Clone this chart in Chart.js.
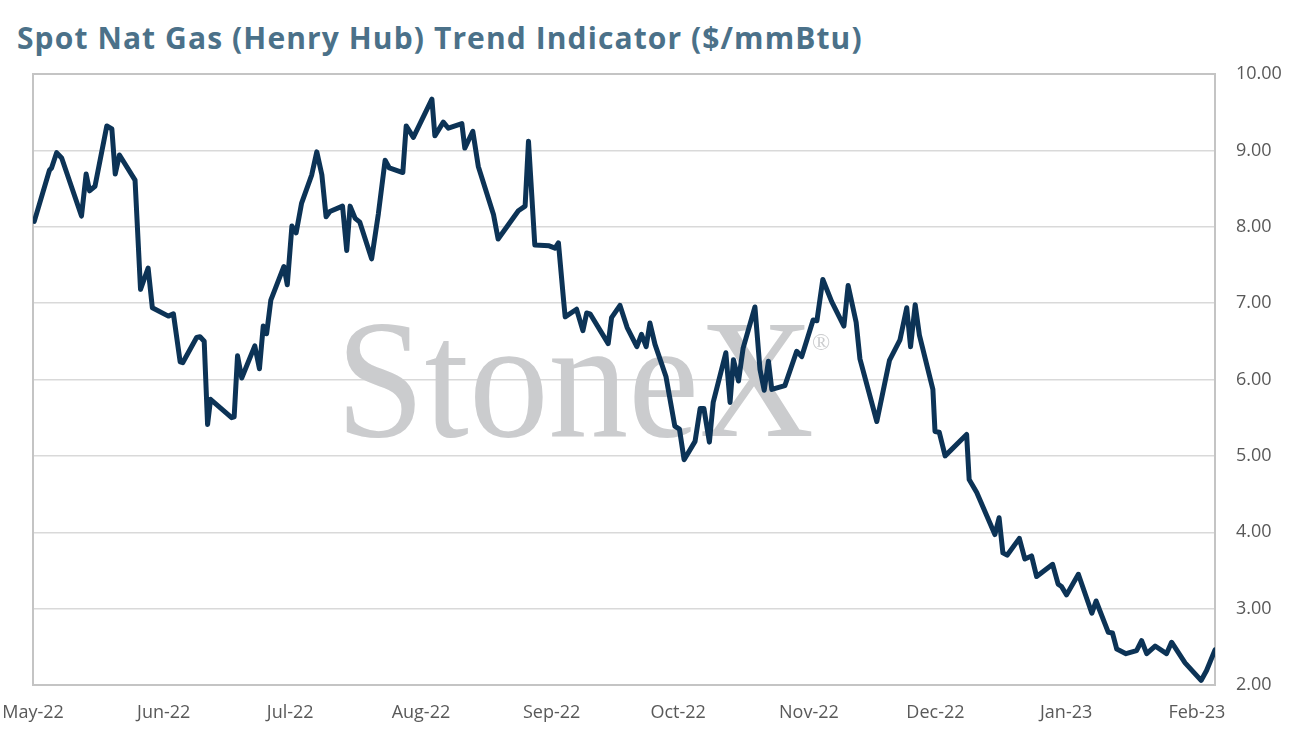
<!DOCTYPE html>
<html lang="en">
  <head>
    <meta charset="UTF-8" />
    <title>Spot Nat Gas (Henry Hub) Trend Indicator</title>
    <style>
      html, body { margin: 0; padding: 0; background: #fff; }
      .wrap { position: relative; width: 1294px; height: 745px; }
      h1 {
        position: absolute; left: 17px; top: 21px; margin: 0;
        font-family: "Open Sans", sans-serif; font-weight: 700; font-size: 30px;
        line-height: 34px; color: #4b7189; letter-spacing: 1.1px; white-space: nowrap;
      }
      canvas { position: absolute; left: 0; top: 0; }
    </style>
  </head>
  <body>
    <div class="wrap">
      <h1>Spot Nat Gas (Henry Hub) Trend Indicator ($/mmBtu)</h1>
      <canvas id="gasChart" width="1294" height="745"></canvas>
    </div>

    <script src="https://cdn.jsdelivr.net/npm/chart.js"></script>
    <script>
      // days counted from 1 May 2022
      const days = [
        0.3, 3.9, 4.4, 5.6, 6.8, 11.5, 12.6, 13.4, 14.7, 17.5, 18.7, 19.5, 20.5, 24.2, 25.5, 27.3, 28.3,
        32.1, 33.3, 34.9, 35.5, 38.8, 39.6, 40.6, 41.4, 42.1, 47.1, 47.7, 48.5, 49.5, 52.6, 53.7, 54.6,
        55.4, 56.4, 59.5, 60.3, 61.4, 62.4, 63.7, 66.1, 67.3, 68.5, 69.5, 70.4, 73.4, 74.4, 75.2, 76.4,
        77.5, 80.3, 81.9, 83.5, 84.5, 87.7, 88.5, 90.2, 94.6, 95.3, 97.3, 98.5, 101.7, 102.4, 104.3,
        105.6, 109.2, 110.3, 115.1, 116.7, 117.5, 119.0, 122.4, 123.8, 124.6, 125.8, 126.2, 128.9,
        130.4, 131.3, 132.1, 136.4, 137.2, 139.2, 140.9, 143.2, 144.3, 145.4, 146.3, 147.5, 150.1,
        152.2, 153.3, 154.4, 157.0, 158.2, 159.1, 160.4, 161.3, 164.3, 165.3, 166.1, 167.3, 168.4,
        171.2, 172.4, 173.4, 174.4, 175.2, 178.3, 181.1, 182.3, 185.0, 185.9, 187.3, 189.4, 192.3,
        193.3, 195.2, 196.1, 200.1, 203.1, 205.6, 207.2, 208.1, 209.2, 210.2, 213.4, 213.9, 214.9,
        216.3, 221.4, 222.0, 223.8, 228.1, 229.1, 230.0, 231.0, 233.9, 235.2, 236.8, 238.0, 241.8,
        243.1, 243.9, 245.1, 247.9, 251.1, 252.1, 255.0, 256.0, 257.0, 259.2, 261.7, 262.9, 264.1,
        266.1, 268.8, 270.0, 273.2, 277.0, 278.3, 280.3
      ];
      const prices = [
        8.07, 8.74, 8.77, 8.97, 8.90, 8.14, 8.69, 8.47, 8.53, 9.32, 9.28, 8.69, 8.94, 8.61, 7.18, 7.46, 6.94,
        6.83, 6.86, 6.23, 6.22, 6.55, 6.56, 6.50, 5.41, 5.74, 5.50, 5.51, 6.31, 6.02, 6.44, 6.14, 6.70,
        6.60, 7.04, 7.48, 7.24, 8.01, 7.92, 8.31, 8.68, 8.98, 8.68, 8.13, 8.20, 8.27, 7.69, 8.27, 8.11,
        8.06, 7.58, 8.17, 8.87, 8.77, 8.71, 9.32, 9.17, 9.67, 9.19, 9.37, 9.29, 9.35, 9.03, 9.25,
        8.79, 8.16, 7.84, 8.21, 8.27, 9.12, 7.76, 7.75, 7.72, 7.79, 7.05, 6.82, 6.92,
        6.64, 6.87, 6.86, 6.47, 6.81, 6.97, 6.68, 6.43, 6.59, 6.43, 6.74, 6.46, 6.04,
        5.39, 5.35, 4.95, 5.19, 5.62, 5.62, 5.18, 5.70, 6.35, 5.70, 6.26, 5.98, 6.41,
        6.95, 6.13, 5.86, 6.24, 5.87, 5.92, 6.37, 6.30, 6.78, 6.77, 7.31, 7.02, 6.70,
        7.23, 6.75, 6.27, 5.45, 6.25, 6.52, 6.94, 6.43, 6.98, 6.58, 5.87, 5.32, 5.31,
        5.00, 5.28, 4.69, 4.52, 3.97, 4.19, 3.73, 3.70, 3.92, 3.65, 3.69, 3.42, 3.58,
        3.32, 3.29, 3.18, 3.45, 2.94, 3.10, 2.69, 2.68, 2.47, 2.41, 2.45, 2.58, 2.41,
        2.51, 2.41, 2.56, 2.29, 2.06, 2.19, 2.46
      ];

      // month starts (days from 1 May 2022) and their labels
      const monthTicks = [0, 31, 61, 92, 123, 153, 184, 214, 245, 276];
      const monthLabels = ["May-22", "Jun-22", "Jul-22", "Aug-22", "Sep-22", "Oct-22", "Nov-22", "Dec-22", "Jan-23", "Feb-23"];

      const FONT = "'Open Sans', sans-serif";

      // grey StoneX watermark plus the frame round the plot
      const backdrop = {
        id: "backdrop",
        beforeDatasetsDraw(chart) {
          const { ctx, chartArea: a } = chart;
          ctx.save();
          ctx.fillStyle = "#cbccce";
          ctx.font = "170px 'Liberation Serif', serif";
          ctx.textBaseline = "alphabetic";
          ctx.fillText("StoneX", 336, 436, 478);
          ctx.font = "24px 'Liberation Serif', serif";
          ctx.fillText("®", 812, 350);
          ctx.strokeStyle = "#c4c4c4";
          ctx.lineWidth = 2;
          ctx.strokeRect(a.left, a.top, a.right - a.left, a.bottom - a.top);
          ctx.restore();
        },
      };

      const points = days.map((d, i) => ({ x: d, y: prices[i] }));

      new Chart(document.getElementById("gasChart"), {
        type: "line",
        data: {
          datasets: [
            {
              data: points,
              borderColor: "#0c3356",
              borderWidth: 5,
              pointRadius: 0,
              tension: 0,
              borderJoinStyle: "round",
              borderCapStyle: "round",
            },
          ],
        },
        options: {
          responsive: false,
          animation: false,
          layout: { padding: { left: 33, right: 0, top: 74, bottom: 0 } },
          plugins: { legend: { display: false }, tooltip: { enabled: false } },
          scales: {
            x: {
              type: "linear",
              min: 0,
              max: 280.3,
              grid: { display: false, drawTicks: false },
              border: { display: false },
              afterBuildTicks(scale) {
                scale.ticks = monthTicks.map((v) => ({ value: v }));
              },
              afterFit(scale) {
                scale.height = 60;
                scale.paddingLeft = 0;
                scale.paddingRight = 0;
              },
              ticks: {
                autoSkip: false,
                maxRotation: 0,
                padding: 17,
                color: "#595959",
                font: { family: FONT, size: 18 },
                callback: (v) => monthLabels[monthTicks.indexOf(v)],
              },
            },
            y: {
              position: "right",
              min: 2,
              max: 10,
              grid: { color: "#d9d9d9", lineWidth: 1.5, drawTicks: false },
              border: { display: false },
              afterFit(scale) {
                scale.width = 1294 - 1215;
                scale.paddingTop = 0;
                scale.paddingBottom = 0;
              },
              ticks: {
                stepSize: 1,
                padding: 21,
                color: "#595959",
                font: { family: FONT, size: 18 },
                callback: (v) => v.toFixed(2),
              },
            },
          },
        },
        plugins: [backdrop],
      });
    </script>
  </body>
</html>
